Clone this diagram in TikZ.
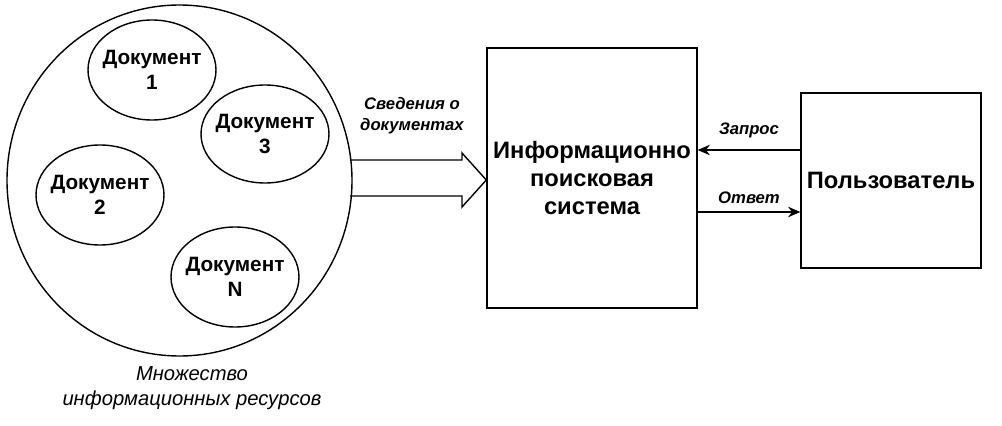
\documentclass[tikz,border=0pt]{standalone}
\usepackage{fontspec}
\setmainfont{Liberation Sans}
\usetikzlibrary{positioning,arrows.meta,shapes.geometric}

\tikzset{
    doc/.style={align=center,inner sep=0pt,font=\bfseries\fontsize{11.8}{14}\selectfont},
    block/.style={draw,thick,align=center,font=\bfseries\fontsize{13.5}{16}\selectfont},
    lbl/.style={font=\bfseries\itshape\fontsize{9.5}{12}\selectfont,align=center}
}

\begin{document}
\begin{tikzpicture}[x=0.02cm,y=-0.02cm]
    \useasboundingbox (0,0) rectangle (1002,426);
    % resources
    \coordinate (pool) at (179.5,180.5);
    \draw[thick] (pool) ellipse [x radius=172.5, y radius=175.5];
    \node[doc] (d1) at (152,70) {Документ\\1};
    \node[doc] (d3) at (265,134) {Документ\\3};
    \node[doc] (d2) at (100,195) {Документ\\2};
    \node[doc] (dn) at (235,277) {Документ\\N};
    \draw[thick] (d1) ellipse [x radius=64, y radius=50];
    \draw[thick] (d3) ellipse [x radius=64, y radius=49];
    \draw[thick] (d2) ellipse [x radius=64, y radius=50];
    \draw[thick] (dn) ellipse [x radius=64, y radius=50];
    \node[font=\itshape\fontsize{11.5}{14}\selectfont,align=center] (pname) at (192,388) {Множество\\информационных ресурсов};
    % system and user
    \node[block,minimum width=4.2cm,minimum height=5.2cm] (irs) at (592,178) {Информационно\\поисковая\\система};
    \node[block,minimum width=3.56cm,minimum height=3.5cm] (user) at (891,180.5) {Пользователь};
    % hollow arrow
    \coordinate (a0) at (350,160);
    \draw[thick] (a0) -- (462,160) -- (462,153) -- (irs.west|-0,180) -- (462,207) -- (462,196) -- (350,196);
    \node[lbl] (info) at (412,116) {Сведения о\\документах};
    % request and answer
    \draw[thick,-{Stealth[length=7pt,width=6pt]}] (user.west|-0,150) -- node[lbl,above=3pt] {Запрос} (irs.east|-0,150);
    \draw[thick,-{Stealth[length=7pt,width=6pt]}] (irs.east|-0,212) -- node[lbl,above=1pt] {Ответ} (user.west|-0,212);
\end{tikzpicture}
\end{document}
